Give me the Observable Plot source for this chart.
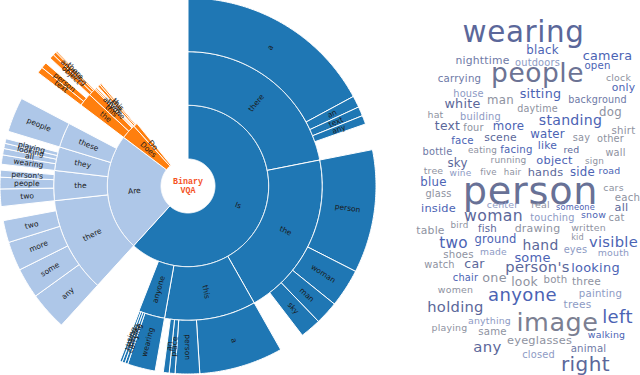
<!DOCTYPE html>
<html><head><meta charset="utf-8">
<script src="https://cdn.jsdelivr.net/npm/d3@7"></script>
<script src="https://cdn.jsdelivr.net/npm/@observablehq/plot@0.6"></script>
<style>
html,body{margin:0;padding:0;background:#fff;}
#wrap{display:flex;width:640px;height:375px;overflow:hidden;}
#wrap svg{display:block;}
.cloud text{letter-spacing:0.02em;}
</style></head><body><div id="wrap"></div>
<script>
// ---------- Sunburst data (share of questions, % of full circle) ----------
const ring1 = [
  ["Is", 61.75], ["Are", 23.55], ["Does", 3.0], ["Do", 0.8]
];
const ring2 = [
  ["Is","there",21.9], ["Is","the",19.9], ["Is","this",11.0], ["Is","anyone",3.15],
  ["Are","there",11.5], ["Are","the",3.6], ["Are","they",2.85], ["Are","these",3.0],
  ["Does","the",1.6], ["Does","this",0.9], ["Does","anyone",0.15], ["Does","there",0.15],
  ["Do","the",0.3], ["Do","this",0.2]
];
const ring3 = [
  ["Is/there","a",17.1], ["Is/there","an",1.0], ["Is/there","text",0.8], ["Is/there","any",0.75],
  ["Is/the","person",10.6], ["Is/the","woman",3.3], ["Is/the","man",2.0], ["Is/the","sky",1.8],
  ["Is/this","a",7.2], ["Is/this","person",2.1], ["Is/this","place",0.5], ["Is/this","an",0.5],
  ["Is/anyone","wearing",2.4], ["Is/anyone","carrying",0.25], ["Is/anyone","holding",0.25], ["Is/anyone","using",0.2],
  ["Are/there","any",3.3], ["Are/there","some",2.6], ["Are/there","more",2.5], ["Are/there","two",1.9],
  ["Are/the","two",1.5], ["Are/the","people",1.0], ["Are/the","person's",0.6],
  ["Are/they","wearing",0.8], ["Are/they","all",0.55], ["Are/they","looking",0.45], ["Are/they","playing",0.4],
  ["Are/these","people",3.0],
  ["Does/the","text",0.55], ["Does/the","person",0.5],
  ["Does/this","object",0.4], ["Does/this","anything",0.3], ["Does/this","there",0.12]
];
const centerLabel = "Binary\nVQA";

// ---------- Word cloud data ----------
const cloudWords = ["wearing","black","camera","nighttime","outdoors","people","open","carrying","clock","only",
 "house","sitting","white","man","background","daytime","dog","hat","building","standing",
 "text","four","more","shirt","face","scene","water","say","other","bottle",
 "eating","facing","like","red","wall","sky","running","object","sign","tree",
 "wine","five","hair","hands","side","road","blue","person","cars","glass",
 "each","center","real","someone","inside","all","woman","touching","snow","cat",
 "bird","table","fish","drawing","written","two","ground","kid","visible","hand",
 "shoes","made","some","eyes","mouth","watch","car","person's","looking","chair",
 "one","look","both","three","women","anyone","painting","holding","trees","image",
 "left","anything","playing","same","walking","any","eyeglasses","animal","closed","right"];
const cloudFreq = [75,30,32.5,27.5,25,67.5,26,26,24,27.5,
 25,32.5,32.5,30,24.5,24.5,30,24,25,36,
 31.5,25,30,26,26,27.5,30,25,25,25,
 22.5,26,27.5,24,25,30,23,29,22.5,24,
 23,22,22,29,30,24,30,97.5,24,25,
 26,24,24,21,29,29,40,25,24,25,
 22.5,27.5,26,28,24,39,29.5,21,37.5,35.5,
 26,23.5,33,25,24,25,32,37.5,33,25,
 32.5,31.5,26,27,24,46,26,37.5,27,65,
 46,24,24,26,24,38,29,26,25,51];

// layout of the cloud (page coordinates of each word centre)
const cloudLayout = {
 wearing:[523,32], black:[542,50], camera:[607,55], nighttime:[482,60], outdoors:[537,62], people:[537,73],
 open:[597,65], carrying:[459,78], clock:[618,77], only:[623,87], house:[468,93], sitting:[540,93],
 white:[462,103], man:[500,100], background:[597,99], daytime:[537,108], dog:[610,112], hat:[435,114],
 building:[480,116], standing:[570,120], text:[447,126], four:[473,127], more:[508,126], shirt:[623,130],
 face:[462,140], scene:[500,137], water:[547,134], say:[581,137], other:[610,138], bottle:[437,151],
 eating:[482,150], facing:[516,149], like:[547,145], red:[571,149], wall:[615,152], sky:[457,163],
 running:[508,160], object:[554,160], sign:[594,161], tree:[433,170], wine:[460,173], five:[488,172],
 hair:[512,172], hands:[545,172], side:[582,172], road:[609,170], blue:[433,182], person:[530,191],
 cars:[613,187], glass:[438,193], each:[627,197], center:[502,204], real:[540,204], someone:[575,207],
 inside:[438,208], all:[621,207], woman:[493,215], touching:[552,217], snow:[593,214], cat:[616,217],
 bird:[459,225], table:[430,230], fish:[487,228], drawing:[537,228], written:[588,227], two:[453,243],
 ground:[495,239], kid:[577,237], visible:[613,242], hand:[540,245], shoes:[458,254], made:[493,252],
 some:[532,257], eyes:[575,249], mouth:[613,252], watch:[439,264], car:[474,263], "person's":[537,267],
 looking:[595,267], chair:[465,277], one:[494,277], look:[524,282], both:[555,279], three:[586,281],
 women:[455,289], anyone:[522,295], painting:[600,293], holding:[455,307], trees:[577,304], image:[557,322],
 left:[617,317], anything:[489,320], playing:[449,327], same:[492,331], walking:[606,334], any:[487,347],
 eyeglasses:[539,340], animal:[588,348], closed:[538,354], right:[585,364]
};
const toneColor = {S:"#5b679a", S2:"#6e79a6", B:"#4b63b4", G:"#8e929f", L:"#8d9ac4", P:"#6c7394", PE:"#687196", IM:"#7b7f92"};
const toneGroups = {
 S:["wearing","text","white","scene","sky","hands","all","woman","fish","hand","car","person's","holding","any","right","red"],
 S2:["nighttime","carrying","background","bottle","animal"],
 B:["black","camera","open","only","sitting","standing","more","face","water","facing","like","object","side","road","blue","inside","someone","snow","two","ground","visible","some","looking","chair","anyone","left","walking"],
 L:["outdoors","house","building","wine","center","touching","made","eyes","mouth","painting","trees","anything","closed"],
 P:["people"], PE:["person"], IM:["image"]
};
const wordTone = {};
for (const [k, ws] of Object.entries(toneGroups)) for (const w of ws) wordTone[w] = k;

// ---------- Sunburst layout ----------
const R = [27, 80.7, 134.3, 188];
const rootColor = {Is:"#1f77b4", Are:"#aec7e8", Does:"#ff7f0e", Do:"#ff7f0e"};
const nodes = new Map();
const segs = [];
let cur = 0;
for (const [name, v] of ring1) {
  const a0 = cur, a1 = cur + v / 100 * 360; cur = a1;
  const n = {id: name, label: name, depth: 1, a0, a1, color: rootColor[name]};
  nodes.set(name, n); segs.push(n);
}
const cursors = new Map();
function addChildren(rows, depth) {
  for (const [parent, name, v] of rows) {
    const p = nodes.get(parent);
    const start = cursors.has(parent) ? cursors.get(parent) : p.a0;
    const a1 = start + v / 100 * 360;
    cursors.set(parent, a1);
    const id = parent + "/" + name;
    const n = {id, label: name, depth, a0: start, a1, color: p.color};
    nodes.set(id, n); segs.push(n);
  }
}
addChildren(ring2, 2);
addChildren(ring3, 3);

const rad = Math.PI / 180;
const polar = (r, a) => [r * Math.sin(a * rad), -r * Math.cos(a * rad)];
const polyPts = segs.flatMap(s => {
  const r0 = R[s.depth - 1], r1 = R[s.depth];
  const n = Math.max(2, Math.ceil((s.a1 - s.a0) / 0.5));
  const out = [];
  for (let i = 0; i <= n; i++) { const [x, y] = polar(r1, s.a0 + (s.a1 - s.a0) * i / n); out.push({id: s.id, color: s.color, x, y}); }
  for (let i = n; i >= 0; i--) { const [x, y] = polar(r0, s.a0 + (s.a1 - s.a0) * i / n); out.push({id: s.id, color: s.color, x, y}); }
  out.push({...out[0]});
  return out;
});
const labels = segs.map(s => {
  const am = (s.a0 + s.a1) / 2, rm = (R[s.depth - 1] + R[s.depth]) / 2;
  const [x, y] = polar(rm, am);
  return {x, y, text: s.label, rot: am <= 180.5 ? am - 90 : am - 270};
});

const sun = Plot.plot({
  width: 400, height: 375, margin: 0,
  x: {domain: [-187.5, 212.5], range: [0, 400], axis: null},
  y: {domain: [-185.5, 189.5], range: [0, 375], axis: null},
  color: {type: "identity"},
  marks: [
    Plot.line(polyPts, {x: "x", y: "y", z: "id", fill: "color", stroke: "white", strokeWidth: 1, curve: "linear"}),
    Plot.text(labels, {x: "x", y: "y", text: "text", rotate: "rot", fontSize: 7.5, fontFamily: "DejaVu Sans", fill: "#1a1a1a"}),
    Plot.text([centerLabel], {x: () => 0, y: () => 0, text: d => d, fontSize: 8.3, fontWeight: "bold", fontFamily: "Liberation Mono", fill: "#f4511e", lineHeight: 1.1})
  ]
});

const cloudData = cloudWords.map((w, i) => ({word: w, freq: cloudFreq[i], cx: cloudLayout[w][0], cy: cloudLayout[w][1], col: toneColor[wordTone[w] || "G"]}));
const cloud = Plot.plot({
  width: 240, height: 375, margin: 0, className: "cloud",
  x: {domain: [400, 640], range: [0, 240], axis: null},
  y: {domain: [0, 375], range: [0, 375], axis: null},
  color: {type: "identity"},
  marks: [
    Plot.text(cloudData, {x: "cx", y: "cy", text: "word", fontSize: d => d.freq / 2.55, fill: "col", fontFamily: "DejaVu Sans"})
  ]
});

const wrap = document.getElementById("wrap");
wrap.append(sun, cloud);
</script></body></html>
